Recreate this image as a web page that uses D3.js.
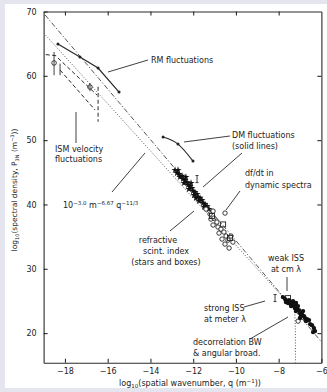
<!DOCTYPE html>
<html>
<head>
<meta charset="utf-8">
<script src="https://cdn.jsdelivr.net/npm/d3@7"></script>
<style>
  html, body { margin: 0; padding: 0; background: #e5e5f0; }
  svg { display: block; }
  text { font-family: "DejaVu Sans", sans-serif; fill: #222; }
</style>
</head>
<body>
<svg id="chart" width="327" height="392"></svg>
<script>
// tick values
var xTicks = [-18, -16, -14, -12, -10, -8, -6];
var yTicks = [20, 30, 40, 50, 60, 70];

// model lines, [log10 q, log10 P]
var slope4Line = [[-18.93, 69.46], [-6.0, 18.65]];
var kolmogorovLine = [[-18.9, 66.3], [-7.25, 23.58], [-7.22, 21.0], [-7.21, 15.4]];

// RM and DM structure function results (solid lines)
var rmFluct = [[-18.33, 64.95], [-17.30, 62.92], [-16.45, 61.21], [-15.47, 57.48]];
var dmFluct = [[-13.41, 50.48], [-12.71, 49.39], [-12.01, 46.75]];

// ISM velocity fluctuations (dashed)
var ismVelocity = [
    [[-18.90, 63.30], [-18.35, 63.10]],
    [[-18.33, 62.77], [-16.50, 57.01]],
    [[-18.23, 60.90], [-16.59, 54.68]],
    [[-16.45, 58.30], [-16.45, 52.86]]
];
var ismPoints = [[-18.51, 62.0, 60.1, 63.7], [-16.83, 58.26, 57.6, 58.9]];
var ismBars = [[-18.23, 60.1, 61.9]];

// refractive scintillation index (stars and boxes)
var refractStars = [[-12.85, 45.35], [-12.76, 44.88], [-12.71, 45.35], [-12.66, 44.73], [-12.62, 44.26],
    [-12.52, 44.42], [-12.48, 43.95], [-12.43, 43.33], [-12.38, 43.79], [-12.34, 44.26], [-12.29, 43.48],
    [-12.24, 43.02], [-12.20, 42.39], [-12.15, 42.86], [-12.10, 43.33], [-12.06, 42.55], [-12.01, 42.08],
    [-11.96, 41.46], [-11.92, 41.93], [-11.87, 41.00], [-11.82, 41.62], [-11.78, 41.15], [-11.73, 40.53],
    [-11.68, 41.00], [-11.59, 40.68], [-11.54, 40.22], [-11.49, 39.60], [-11.45, 40.06], [-11.35, 39.75],
    [-11.26, 39.28]];
var refractOpen = [[-11.40, 39.28], [-11.21, 38.51], [-11.07, 38.97], [-11.17, 37.73], [-11.03, 37.88],
    [-10.89, 37.26], [-11.07, 36.80], [-10.84, 36.49], [-10.70, 36.17], [-10.79, 35.55], [-10.56, 35.71],
    [-10.46, 35.09], [-10.65, 34.62], [-10.37, 34.46], [-10.51, 33.84], [-10.32, 33.22], [-10.23, 35.09],
    [-10.14, 34.15]];
var refractBoxes = [[-11.12, 38.2], [-10.60, 36.9], [-10.28, 34.8]];

// single points
var dfdtPoint = [[-10.51, 38.66]];
var dmErrPoint = [[-11.82, 43.95, 43.4, 44.5]];
var strongIss = [[-8.17, 25.44, 24.9, 26.0]];
var weakIssBox = [[-7.56, 25.44]];

// decorrelation bandwidth & angular broadening
var decorrPoints = [[-7.80, 25.60], [-7.70, 25.29], [-7.66, 24.82], [-7.61, 24.98], [-7.56, 24.67],
    [-7.52, 25.13], [-7.47, 24.67], [-7.42, 24.20], [-7.38, 24.51], [-7.33, 24.98], [-7.28, 24.35],
    [-7.24, 23.89], [-7.19, 23.42], [-7.19, 24.67], [-7.14, 23.73], [-7.10, 24.20], [-7.05, 23.58],
    [-7.00, 23.11], [-7.00, 22.33], [-6.96, 22.64], [-6.91, 22.95], [-6.86, 23.42], [-6.81, 22.64],
    [-6.77, 22.33], [-6.72, 21.87], [-6.67, 22.18], [-6.58, 22.02], [-6.53, 21.40], [-6.44, 21.24],
    [-6.39, 20.16], [-6.35, 20.78], [-6.30, 20.31]];
var decorrOpen = [[-7.09, 21.87]];

var ink = "#2a2a2a";
var svg = d3.select("#chart");

// white page of the scanned figure
svg.append("rect").attr("x", 5).attr("y", 4).attr("width", 322).attr("height", 384).attr("fill", "#fff");

var x = d3.scaleLinear().domain([-19, -6]).range([43.6, 321.4]);
var y = d3.scaleLinear().domain([15.4, 70]).range([362.7, 11.5]);
var line = d3.line().x(d => x(d[0])).y(d => y(d[1]));

function styleAxis(g) {
    g.attr("font-family", null).attr("font-size", 8);
    g.selectAll("path, line").attr("stroke", ink).attr("stroke-width", 1.1);
    g.selectAll("text").attr("fill", ink);
}

svg.append("g").attr("transform", `translate(0,${y(15.4)})`)
    .call(d3.axisBottom(x).tickValues(xTicks).tickSizeInner(-4).tickSizeOuter(0).tickPadding(6))
    .call(styleAxis);
svg.append("g").attr("transform", `translate(0,${y(70)})`)
    .call(d3.axisTop(x).tickValues(xTicks.slice(0, -1)).tickSizeInner(-4).tickSizeOuter(0).tickFormat(""))
    .call(styleAxis);
svg.append("g").attr("transform", `translate(${x(-19)},0)`)
    .call(d3.axisLeft(y).tickValues(yTicks).tickSizeInner(-4).tickSizeOuter(0).tickPadding(7))
    .call(styleAxis);
svg.append("g").attr("transform", `translate(${x(-6)},0)`)
    .call(d3.axisRight(y).tickValues(yTicks.slice(0, -1)).tickSizeInner(-4).tickSizeOuter(0).tickFormat(""))
    .call(styleAxis);

// model lines
svg.append("path").attr("d", line(slope4Line)).attr("fill", "none")
    .attr("stroke", "#444").attr("stroke-width", 0.9).attr("stroke-dasharray", "5,2,1.2,2");
svg.append("path").attr("d", line(kolmogorovLine)).attr("fill", "none")
    .attr("stroke", "#555").attr("stroke-width", 1).attr("stroke-dasharray", "1,1.8");

// ISM velocity
svg.selectAll(".ism").data(ismVelocity).enter().append("path")
    .attr("d", line).attr("fill", "none")
    .attr("stroke", ink).attr("stroke-width", 1).attr("stroke-dasharray", "4,2.5");

function errBars(data) {
    svg.append("g").selectAll("line").data(data).enter().append("line")
        .attr("x1", d => x(d[0])).attr("x2", d => x(d[0]))
        .attr("y1", d => y(d[d.length - 2])).attr("y2", d => y(d[d.length - 1]))
        .attr("stroke", ink).attr("stroke-width", 0.9);
}
errBars(ismPoints);
errBars(ismBars);
svg.append("g").selectAll("circle").data(ismPoints).enter().append("circle")
    .attr("cx", d => x(d[0])).attr("cy", d => y(d[1])).attr("r", 2.3)
    .attr("fill", "none").attr("stroke", ink).attr("stroke-width", 0.9);

// RM and DM solid lines
svg.append("path").attr("d", line(rmFluct)).attr("fill", "none").attr("stroke", ink).attr("stroke-width", 1.2);
svg.append("path").attr("d", line.curve(d3.curveNatural)(dmFluct)).attr("fill", "none")
    .attr("stroke", ink).attr("stroke-width", 1.1);
line.curve(d3.curveLinear);
svg.append("g").selectAll("circle").data(rmFluct.concat(dmFluct)).enter().append("circle")
    .attr("cx", d => x(d[0])).attr("cy", d => y(d[1])).attr("r", 1.5).attr("fill", "#222");

// scatter
var star = d3.symbol().type(d3.symbolStar).size(16);
svg.append("g").selectAll("path").data(refractStars).enter().append("path")
    .attr("d", star).attr("transform", d => `translate(${x(d[0])},${y(d[1])})`).attr("fill", "#111");
svg.append("g").selectAll("circle").data(refractOpen.concat(dfdtPoint, decorrOpen)).enter().append("circle")
    .attr("cx", d => x(d[0])).attr("cy", d => y(d[1])).attr("r", 2.2)
    .attr("fill", "#fff").attr("stroke", "#222").attr("stroke-width", 0.9);
svg.append("g").selectAll("rect").data(refractBoxes.concat(weakIssBox)).enter().append("rect")
    .attr("x", d => x(d[0]) - 2.5).attr("y", d => y(d[1]) - 2.5).attr("width", 5).attr("height", 5)
    .attr("fill", "none").attr("stroke", "#222").attr("stroke-width", 0.9);
svg.append("g").selectAll("circle").data(decorrPoints).enter().append("circle")
    .attr("cx", d => x(d[0])).attr("cy", d => y(d[1])).attr("r", 2.2).attr("fill", "#111");
errBars(dmErrPoint);
errBars(strongIss);
svg.append("g").selectAll("line").data(dmErrPoint.concat(strongIss).flatMap(d => [[d[0], d[2]], [d[0], d[3]]]))
    .enter().append("line")
    .attr("x1", d => x(d[0]) - 1.5).attr("x2", d => x(d[0]) + 1.5)
    .attr("y1", d => y(d[1])).attr("y2", d => y(d[1]))
    .attr("stroke", ink).attr("stroke-width", 0.9);

// annotation pointers (page px)
var pointers = [
    [108, 72, 148, 60], [76, 112, 76, 143], [112, 192, 145, 153],
    [184, 142, 230, 136], [242, 153, 203, 187], [240, 191, 226, 210],
    [170, 231, 194, 211], [287, 277, 287, 291], [244, 307, 265, 301], [250, 339, 288, 317]
];
svg.append("g").selectAll("line").data(pointers).enter().append("line")
    .attr("x1", d => d[0]).attr("y1", d => d[1]).attr("x2", d => d[2]).attr("y2", d => d[3])
    .attr("stroke", ink).attr("stroke-width", 0.9);

// annotation labels
var labels = [
    ["RM fluctuations", 151, 63, "start"],
    ["ISM velocity", 55, 152, "start"], ["fluctuations", 55, 162, "start"],
    ["DM fluctuations", 232, 138, "start"], ["(solid lines)", 232, 149, "start"],
    ["df/dt in", 245, 176, "start"], ["dynamic spectra", 245, 188, "start"],
    ["refractive", 158, 243, "middle"], ["scint. index", 166, 254, "middle"], ["(stars and boxes)", 166, 265, "middle"],
    ["weak ISS", 286, 261, "middle"], ["at cm \u03bb", 286, 272, "middle"],
    ["strong ISS", 204, 311, "start"], ["at meter \u03bb", 204, 322, "start"],
    ["decorrelation BW", 193, 345, "start"], ["& angular broad.", 193, 356, "start"]
];
svg.append("g").selectAll("text").data(labels).enter().append("text")
    .attr("x", d => d[1]).attr("y", d => d[2]).attr("text-anchor", d => d[3])
    .attr("font-size", 8).text(d => d[0]);

// Kolmogorov label with exponents
var kl = svg.append("text").attr("x", 63).attr("y", 208).attr("font-size", 8);
kl.append("tspan").text("10");
kl.append("tspan").attr("dy", -3.5).attr("font-size", 5.5).text("\u22123.0");
kl.append("tspan").attr("dy", 3.5).text("  m");
kl.append("tspan").attr("dy", -3.5).attr("font-size", 5.5).text("\u22126.67");
kl.append("tspan").attr("dy", 3.5).text("  q");
kl.append("tspan").attr("dy", -3.5).attr("font-size", 5.5).text("\u221211/3");

// axis titles
var xt = svg.append("text").attr("x", 190).attr("y", 386).attr("text-anchor", "middle").attr("font-size", 8);
xt.append("tspan").text("log");
xt.append("tspan").attr("dy", 2).attr("font-size", 5.5).text("10");
xt.append("tspan").attr("dy", -2).text("(spatial wavenumber, q (m");
xt.append("tspan").attr("dy", -3).attr("font-size", 5.5).text("\u22121");
xt.append("tspan").attr("dy", 3).text("))");

var yt = svg.append("text").attr("transform", "translate(17,190) rotate(-90)")
    .attr("text-anchor", "middle").attr("font-size", 7.5);
yt.append("tspan").text("log");
yt.append("tspan").attr("dy", 2).attr("font-size", 5).text("10");
yt.append("tspan").attr("dy", -2).text("(spectral density, P");
yt.append("tspan").attr("dy", 2).attr("font-size", 5).text("3N");
yt.append("tspan").attr("dy", -2).text(" (m");
yt.append("tspan").attr("dy", -3).attr("font-size", 5).text("\u22123");
yt.append("tspan").attr("dy", 3).text("))");
</script>
</body>
</html>
